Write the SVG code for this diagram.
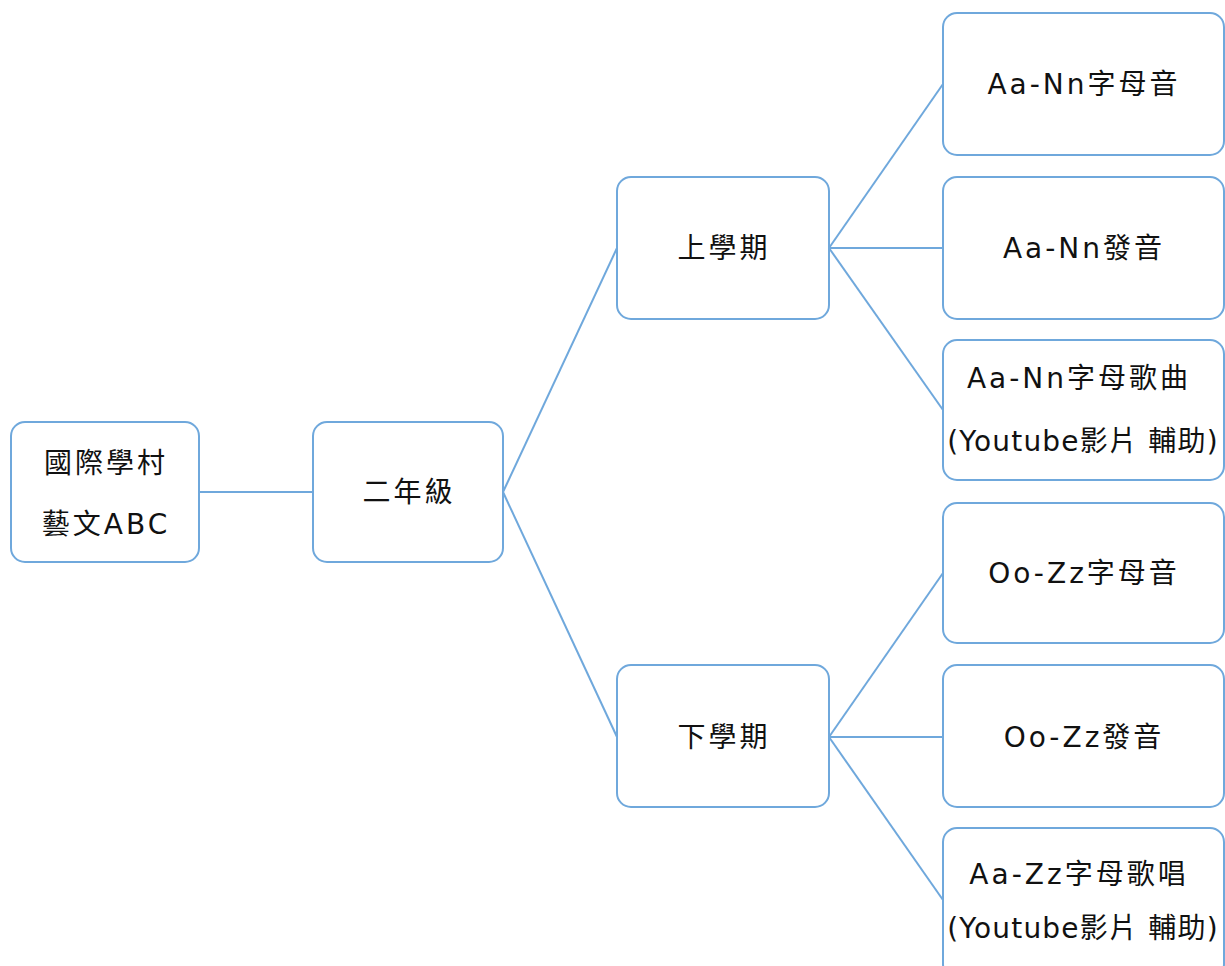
<svg xmlns="http://www.w3.org/2000/svg" width="1225" height="966" viewBox="0 0 1225 966">
<style>
.n{fill:#fff;stroke:#6fa8dc;stroke-width:2}
.c{fill:none;stroke:#6fa8dc;stroke-width:2}
text{font-family:"DejaVu Sans","Noto Sans CJK TC","Noto Sans CJK SC",sans-serif;font-size:28px;fill:#111;text-anchor:middle;dominant-baseline:central;letter-spacing:3px}
text.y{letter-spacing:1.2px}
</style>
<rect width="1225" height="966" fill="#fff"/>
<g id="connectors">
<line class="c" x1="199" y1="492" x2="313" y2="492"/>
<line class="c" x1="503" y1="492" x2="617" y2="248"/>
<line class="c" x1="503" y1="492" x2="617" y2="737"/>
<line class="c" x1="829" y1="248" x2="943" y2="84"/>
<line class="c" x1="829" y1="248" x2="943" y2="248"/>
<line class="c" x1="829" y1="248" x2="943" y2="410"/>
<line class="c" x1="829" y1="737" x2="943" y2="573"/>
<line class="c" x1="829" y1="737" x2="943" y2="737"/>
<line class="c" x1="829" y1="737" x2="943" y2="900"/>
</g>
<g id="root"><rect class="n" x="11" y="422" width="188" height="140" rx="14"/><text x="106" y="463">國際學村</text><text x="106" y="524">藝文ABC</text></g>
<g id="grade2"><rect class="n" x="313" y="422" width="190" height="140" rx="14"/><text x="409" y="492">二年級</text></g>
<g id="sem1"><rect class="n" x="617" y="177" width="212" height="142" rx="14"/><text x="724" y="248">上學期</text></g>
<g id="sem2"><rect class="n" x="617" y="665" width="212" height="142" rx="14"/><text x="724" y="737">下學期</text></g>
<g id="a1"><rect class="n" x="943" y="13" width="281" height="142" rx="14"/><text x="1084" y="84">Aa-Nn字母音</text></g>
<g id="a2"><rect class="n" x="943" y="177" width="281" height="142" rx="14"/><text x="1084" y="248">Aa-Nn發音</text></g>
<g id="a3"><rect class="n" x="943" y="340" width="281" height="140" rx="14"/><text x="1079" y="378">Aa-Nn字母歌曲</text><text class="y" x="1083" y="441">(Youtube影片 輔助)</text></g>
<g id="b1"><rect class="n" x="943" y="503" width="281" height="140" rx="14"/><text x="1084" y="573">Oo-Zz字母音</text></g>
<g id="b2"><rect class="n" x="943" y="665" width="281" height="142" rx="14"/><text x="1084" y="737">Oo-Zz發音</text></g>
<g id="b3"><rect class="n" x="943" y="828" width="281" height="150" rx="14"/><text x="1079" y="874">Aa-Zz字母歌唱</text><text class="y" x="1083" y="928">(Youtube影片 輔助)</text></g>
</svg>
